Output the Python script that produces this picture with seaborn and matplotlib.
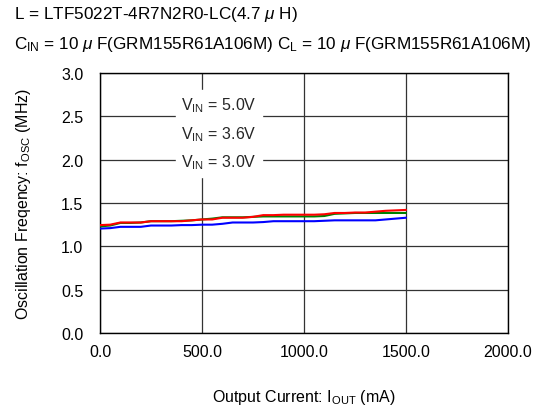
import matplotlib
matplotlib.use("Agg")
import matplotlib.pyplot as plt
import seaborn as sns
import pandas as pd
from matplotlib.lines import Line2D

current = [0, 50, 100, 150, 200, 250, 300, 350, 400, 450, 500, 550, 600, 650, 700, 750,
           800, 850, 900, 950, 1000, 1050, 1100, 1150, 1200, 1250, 1300, 1350, 1400, 1450, 1500]
f_50 = [1.245, 1.25, 1.275, 1.275, 1.275, 1.29, 1.29, 1.29, 1.29, 1.30, 1.31, 1.31, 1.33, 1.33, 1.33, 1.34,
        1.36, 1.36, 1.365, 1.365, 1.365, 1.365, 1.37, 1.385, 1.385, 1.39, 1.39, 1.40, 1.41, 1.415, 1.42]
f_36 = [1.23, 1.24, 1.27, 1.27, 1.275, 1.29, 1.29, 1.29, 1.295, 1.30, 1.31, 1.32, 1.335, 1.335, 1.335, 1.34,
        1.345, 1.345, 1.345, 1.345, 1.345, 1.345, 1.35, 1.375, 1.38, 1.385, 1.385, 1.385, 1.385, 1.385, 1.385]
f_30 = [1.205, 1.21, 1.225, 1.225, 1.225, 1.24, 1.24, 1.24, 1.245, 1.245, 1.25, 1.25, 1.26, 1.275, 1.275, 1.275,
        1.28, 1.29, 1.29, 1.29, 1.29, 1.29, 1.295, 1.30, 1.30, 1.30, 1.30, 1.30, 1.31, 1.32, 1.33]
series = ["3.0V", "3.6V", "5.0V"]
colors = ["#0000ff", "#008000", "#ff0000"]
legend_labels = [r"V$_{\mathrm{IN}}$ = 5.0V", r"V$_{\mathrm{IN}}$ = 3.6V", r"V$_{\mathrm{IN}}$ = 3.0V"]
x_ticks = [0, 500, 1000, 1500, 2000]
y_ticks = [0.0, 0.5, 1.0, 1.5, 2.0, 2.5, 3.0]

sns.set_theme(style="white")
plt.rcParams["font.family"] = ["Liberation Sans", "DejaVu Sans"]
plt.rcParams["mathtext.fontset"] = "custom"
plt.rcParams["mathtext.rm"] = "Liberation Sans"
plt.rcParams["mathtext.it"] = "Liberation Sans:italic"

df = pd.DataFrame({
    "I": current * 3,
    "f": f_30 + f_36 + f_50,
    "V": [series[0]] * len(current) + [series[1]] * len(current) + [series[2]] * len(current),
})

FS = 11.5
fig = plt.figure(figsize=(5.49, 4.10), dpi=100)
ax = fig.add_axes([100 / 549, 1 - 334 / 410, 408 / 549, 260 / 410])
sns.lineplot(data=df, x="I", y="f", hue="V", hue_order=series, palette=colors,
             ax=ax, linewidth=1.5, legend=False, zorder=3)

ax.set_xlim(0, 2000)
ax.set_ylim(0, 3.0)
ax.set_xticks(x_ticks)
ax.set_xticklabels([f"{v:.1f}" for v in x_ticks])
ax.set_yticks(y_ticks)
ax.set_yticklabels([f"{v:.1f}" for v in y_ticks])
ax.tick_params(axis="both", length=0, labelsize=FS, colors="black")
ax.tick_params(axis="x", pad=8)
ax.tick_params(axis="y", pad=12)
ax.grid(True, color="#333333", linewidth=0.9, zorder=1)
for s in ax.spines.values():
    s.set_color("black")
    s.set_linewidth(1.0)

ax.set_xlabel(r"Output Current: I$_{\mathrm{OUT}}$ (mA)", fontsize=FS, color="black", labelpad=20)
ax.set_ylabel(r"Oscillation Freqency: f$_{\mathrm{OSC}}$ (MHz)", fontsize=FS, color="black", labelpad=20)

handles = [Line2D([], [], linestyle="none") for _ in legend_labels]
leg = ax.legend(handles, legend_labels, loc="upper left", bbox_to_anchor=(0.166, 0.965),
                frameon=True, fancybox=False, handlelength=0, handletextpad=0,
                fontsize=FS, borderpad=0.35, labelspacing=0.6, framealpha=1)
leg.get_frame().set_facecolor("white")
leg.get_frame().set_edgecolor("white")
leg.set_zorder(5)

TFS = 12.3
fig.text(14 / 549, 1 - 14 / 410, r"L = LTF5022T-4R7N2R0-LC(4.7 $\mathit{\mu}$ H)", fontsize=TFS,
         ha="left", va="center", color="black")
fig.text(14 / 549, 1 - 45 / 410,
         r"C$_{\mathrm{IN}}$ = 10 $\mathit{\mu}$ F(GRM155R61A106M) C$_{\mathrm{L}}$ = 10 $\mathit{\mu}$ F(GRM155R61A106M)",
         fontsize=TFS, ha="left", va="center", color="black")

fig.savefig("out.png", dpi=100, facecolor="white")
